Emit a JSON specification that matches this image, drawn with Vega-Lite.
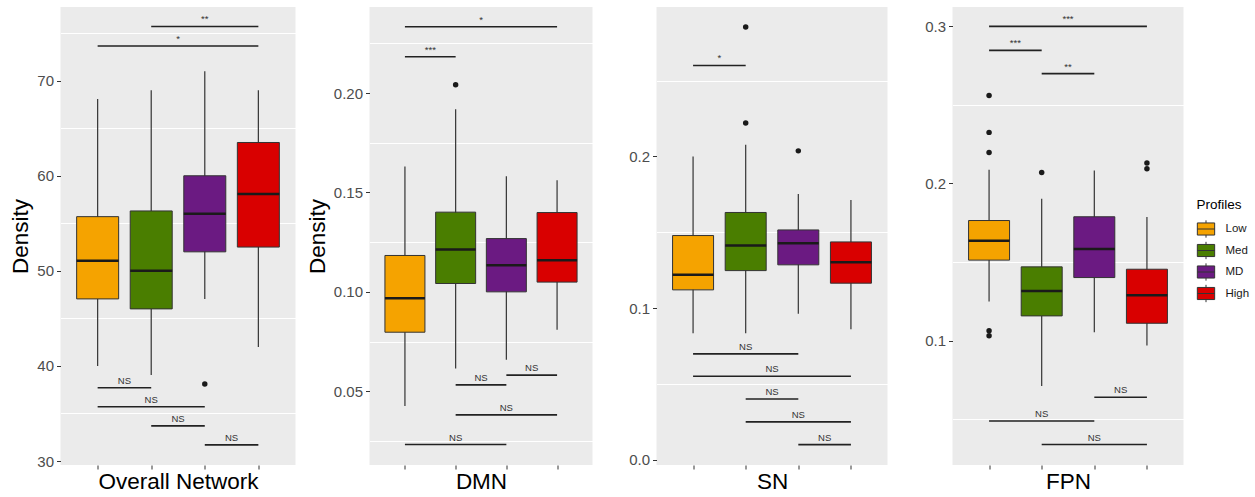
{
  "$schema": "https://vega.github.io/schema/vega-lite/v6.json",
  "padding": {"left": 9.5, "top": 7, "right": 0, "bottom": 0},
  "spacing": 10,
  "datasets": {
    "boxes": [
      {"network": "Overall", "profile": "Low", "idx": 1, "min": 40.0, "q1": 47.05, "median": 51.05, "q3": 55.7, "max": 68.07},
      {"network": "Overall", "profile": "Med", "idx": 2, "min": 39.05, "q1": 46.0, "median": 50.0, "q3": 56.3, "max": 69.0},
      {"network": "Overall", "profile": "MD", "idx": 3, "min": 47.05, "q1": 52.0, "median": 56.0, "q3": 60.0, "max": 71.0},
      {"network": "Overall", "profile": "High", "idx": 4, "min": 42.0, "q1": 52.5, "median": 58.07, "q3": 63.5, "max": 69.0},
      {"network": "DMN", "profile": "Low", "idx": 1, "min": 0.0426, "q1": 0.0797, "median": 0.0968, "q3": 0.1183, "max": 0.1631},
      {"network": "DMN", "profile": "Med", "idx": 2, "min": 0.0614, "q1": 0.1042, "median": 0.1213, "q3": 0.1401, "max": 0.1919},
      {"network": "DMN", "profile": "MD", "idx": 3, "min": 0.0658, "q1": 0.1, "median": 0.1134, "q3": 0.1268, "max": 0.1581},
      {"network": "DMN", "profile": "High", "idx": 4, "min": 0.0809, "q1": 0.1049, "median": 0.1159, "q3": 0.1399, "max": 0.1562},
      {"network": "SN", "profile": "Low", "idx": 1, "min": 0.0835, "q1": 0.1121, "median": 0.122, "q3": 0.1479, "max": 0.2},
      {"network": "SN", "profile": "Med", "idx": 2, "min": 0.0835, "q1": 0.1248, "median": 0.1413, "q3": 0.1631, "max": 0.2077},
      {"network": "SN", "profile": "MD", "idx": 3, "min": 0.0963, "q1": 0.1286, "median": 0.1429, "q3": 0.1516, "max": 0.1752},
      {"network": "SN", "profile": "High", "idx": 4, "min": 0.0862, "q1": 0.1165, "median": 0.1303, "q3": 0.1437, "max": 0.1714},
      {"network": "FPN", "profile": "Low", "idx": 1, "min": 0.1248, "q1": 0.1512, "median": 0.1635, "q3": 0.1764, "max": 0.2087},
      {"network": "FPN", "profile": "Med", "idx": 2, "min": 0.0711, "q1": 0.1157, "median": 0.1316, "q3": 0.1469, "max": 0.1902},
      {"network": "FPN", "profile": "MD", "idx": 3, "min": 0.1053, "q1": 0.1401, "median": 0.1582, "q3": 0.1788, "max": 0.2083},
      {"network": "FPN", "profile": "High", "idx": 4, "min": 0.0968, "q1": 0.111, "median": 0.1289, "q3": 0.1454, "max": 0.1786}
    ],
    "outliers": [
      {"network": "Overall", "idx": 3, "value": 38.1},
      {"network": "DMN", "idx": 2, "value": 0.2042},
      {"network": "SN", "idx": 2, "value": 0.222},
      {"network": "SN", "idx": 2, "value": 0.2853},
      {"network": "SN", "idx": 3, "value": 0.2037},
      {"network": "FPN", "idx": 1, "value": 0.256},
      {"network": "FPN", "idx": 1, "value": 0.2325},
      {"network": "FPN", "idx": 1, "value": 0.2197},
      {"network": "FPN", "idx": 1, "value": 0.1062},
      {"network": "FPN", "idx": 1, "value": 0.103},
      {"network": "FPN", "idx": 2, "value": 0.207},
      {"network": "FPN", "idx": 4, "value": 0.213},
      {"network": "FPN", "idx": 4, "value": 0.2093}
    ],
    "sig": [
      {"network": "Overall", "from": 2, "to": 4, "mid": 3, "y": 75.7, "label": "**"},
      {"network": "Overall", "from": 1, "to": 4, "mid": 2.5, "y": 73.65, "label": "*"},
      {"network": "Overall", "from": 1, "to": 2, "mid": 1.5, "y": 37.7, "label": "NS"},
      {"network": "Overall", "from": 1, "to": 3, "mid": 2, "y": 35.7, "label": "NS"},
      {"network": "Overall", "from": 2, "to": 3, "mid": 2.5, "y": 33.7, "label": "NS"},
      {"network": "Overall", "from": 3, "to": 4, "mid": 3.5, "y": 31.7, "label": "NS"},
      {"network": "DMN", "from": 1, "to": 4, "mid": 2.5, "y": 0.2334, "label": "*"},
      {"network": "DMN", "from": 1, "to": 2, "mid": 1.5, "y": 0.2183, "label": "***"},
      {"network": "DMN", "from": 3, "to": 4, "mid": 3.5, "y": 0.0581, "label": "NS"},
      {"network": "DMN", "from": 2, "to": 3, "mid": 2.5, "y": 0.0532, "label": "NS"},
      {"network": "DMN", "from": 2, "to": 4, "mid": 3, "y": 0.0381, "label": "NS"},
      {"network": "DMN", "from": 1, "to": 3, "mid": 2, "y": 0.0232, "label": "NS"},
      {"network": "SN", "from": 1, "to": 2, "mid": 1.5, "y": 0.26, "label": "*"},
      {"network": "SN", "from": 1, "to": 3, "mid": 2, "y": 0.0699, "label": "NS"},
      {"network": "SN", "from": 1, "to": 4, "mid": 2.5, "y": 0.0552, "label": "NS"},
      {"network": "SN", "from": 2, "to": 3, "mid": 2.5, "y": 0.0402, "label": "NS"},
      {"network": "SN", "from": 2, "to": 4, "mid": 3, "y": 0.0251, "label": "NS"},
      {"network": "SN", "from": 3, "to": 4, "mid": 3.5, "y": 0.0101, "label": "NS"},
      {"network": "FPN", "from": 1, "to": 4, "mid": 2.5, "y": 0.3, "label": "***"},
      {"network": "FPN", "from": 1, "to": 2, "mid": 1.5, "y": 0.2847, "label": "***"},
      {"network": "FPN", "from": 2, "to": 3, "mid": 2.5, "y": 0.2699, "label": "**"},
      {"network": "FPN", "from": 3, "to": 4, "mid": 3.5, "y": 0.0639, "label": "NS"},
      {"network": "FPN", "from": 1, "to": 3, "mid": 2, "y": 0.0488, "label": "NS"},
      {"network": "FPN", "from": 2, "to": 4, "mid": 3, "y": 0.0338, "label": "NS"}
    ]
  },
  "hconcat": [
    {
      "width": 235, "height": 458,
      "layer": [
        {"data": {"name": "boxes"}, "transform": [{"filter": "datum.network == 'Overall'"}],
         "mark": {"type": "rule", "stroke": "#333333", "strokeWidth": 1.2},
         "encoding": {
           "x": {"field": "idx", "type": "quantitative", "title": "Overall Network", "scale": {"domain": [0.4, 4.6], "nice": false, "zero": false}, "axis": {"values": [1, 2, 3, 4], "labels": false, "grid": false, "titlePadding": 1}},
           "y": {"field": "min", "type": "quantitative", "title": "Density", "scale": {"domain": [29.58, 77.75], "nice": false, "zero": false},
                 "axis": {"values": [30, 35, 40, 45, 50, 55, 60, 65, 70, 75], "labelExpr": "indexof([35,45,55,65,75], datum.value) >= 0 ? '' : datum.label",
                          "gridOpacity": {"condition": {"test": "indexof([35,45,55,65,75], datum.value) >= 0", "value": 1}, "value": 0},
                          "tickOpacity": {"condition": {"test": "indexof([35,45,55,65,75], datum.value) >= 0", "value": 0}, "value": 1},
                          "minExtent": 25, "maxExtent": 25, "titlePadding": 3}},
           "y2": {"field": "max"}
         }},
        {"data": {"name": "boxes"}, "transform": [{"filter": "datum.network == 'Overall'"}],
         "mark": {"type": "bar", "width": 42, "stroke": "#333333", "strokeWidth": 1},
         "encoding": {
           "x": {"field": "idx", "type": "quantitative", "title": "Overall Network"},
           "y": {"field": "q1", "type": "quantitative", "title": "Density"},
           "y2": {"field": "q3"},
           "color": {"field": "profile", "type": "nominal", "title": "Profiles",
                     "scale": {"domain": ["Low", "Med", "MD", "High"], "range": ["#F5A300", "#4A7E00", "#6B1A82", "#D90000"]}}
         }},
        {"data": {"name": "boxes"}, "transform": [{"filter": "datum.network == 'Overall'"}],
         "mark": {"type": "tick", "orient": "horizontal", "size": 42, "thickness": 2.5, "color": "#1a1a1a", "opacity": 1},
         "encoding": {
           "x": {"field": "idx", "type": "quantitative", "title": "Overall Network"},
           "y": {"field": "median", "type": "quantitative", "title": "Density"}
         }},
        {"data": {"name": "outliers"}, "transform": [{"filter": "datum.network == 'Overall'"}],
         "mark": {"type": "point", "filled": true, "size": 30, "color": "#1a1a1a", "opacity": 1},
         "encoding": {
           "x": {"field": "idx", "type": "quantitative", "title": "Overall Network"},
           "y": {"field": "value", "type": "quantitative", "title": "Density"}
         }},
        {"data": {"name": "sig"}, "transform": [{"filter": "datum.network == 'Overall'"}],
         "mark": {"type": "rule", "stroke": "#222222", "strokeWidth": 1.6},
         "encoding": {
           "x": {"field": "from", "type": "quantitative", "title": "Overall Network"},
           "x2": {"field": "to"},
           "y": {"field": "y", "type": "quantitative", "title": "Density"}
         }},
        {"data": {"name": "sig"}, "transform": [{"filter": "datum.network == 'Overall'"}],
         "mark": {"type": "text", "baseline": "bottom", "dy": -2, "fontSize": 9.5, "color": "#333333"},
         "encoding": {
           "x": {"field": "mid", "type": "quantitative", "title": "Overall Network"},
           "y": {"field": "y", "type": "quantitative", "title": "Density"},
           "text": {"field": "label"}
         }}
      ]
    },
    {
      "width": 223, "height": 458,
      "layer": [
        {"data": {"name": "boxes"}, "transform": [{"filter": "datum.network == 'DMN'"}],
         "mark": {"type": "rule", "stroke": "#333333", "strokeWidth": 1.2},
         "encoding": {
           "x": {"field": "idx", "type": "quantitative", "title": "DMN", "scale": {"domain": [0.4, 4.6], "nice": false, "zero": false}, "axis": {"values": [1, 2, 3, 4], "labels": false, "grid": false, "titlePadding": 1}},
           "y": {"field": "min", "type": "quantitative", "title": "Density", "scale": {"domain": [0.0129, 0.2433], "nice": false, "zero": false},
                 "axis": {"values": [0.025, 0.05, 0.075, 0.1, 0.125, 0.15, 0.175, 0.2, 0.225], "format": ".2f", "labelExpr": "indexof([0.025,0.075,0.125,0.175,0.225], datum.value) >= 0 ? '' : datum.label",
                          "gridOpacity": {"condition": {"test": "indexof([0.025,0.075,0.125,0.175,0.225], datum.value) >= 0", "value": 1}, "value": 0},
                          "tickOpacity": {"condition": {"test": "indexof([0.025,0.075,0.125,0.175,0.225], datum.value) >= 0", "value": 0}, "value": 1},
                          "minExtent": 36, "maxExtent": 36, "titlePadding": 4.5}},
           "y2": {"field": "max"}
         }},
        {"data": {"name": "boxes"}, "transform": [{"filter": "datum.network == 'DMN'"}],
         "mark": {"type": "bar", "width": 40, "stroke": "#333333", "strokeWidth": 1},
         "encoding": {
           "x": {"field": "idx", "type": "quantitative", "title": "DMN"},
           "y": {"field": "q1", "type": "quantitative", "title": "Density"},
           "y2": {"field": "q3"},
           "color": {"field": "profile", "type": "nominal", "title": "Profiles",
                     "scale": {"domain": ["Low", "Med", "MD", "High"], "range": ["#F5A300", "#4A7E00", "#6B1A82", "#D90000"]}}
         }},
        {"data": {"name": "boxes"}, "transform": [{"filter": "datum.network == 'DMN'"}],
         "mark": {"type": "tick", "orient": "horizontal", "size": 40, "thickness": 2.5, "color": "#1a1a1a", "opacity": 1},
         "encoding": {
           "x": {"field": "idx", "type": "quantitative", "title": "DMN"},
           "y": {"field": "median", "type": "quantitative", "title": "Density"}
         }},
        {"data": {"name": "outliers"}, "transform": [{"filter": "datum.network == 'DMN'"}],
         "mark": {"type": "point", "filled": true, "size": 30, "color": "#1a1a1a", "opacity": 1},
         "encoding": {
           "x": {"field": "idx", "type": "quantitative", "title": "DMN"},
           "y": {"field": "value", "type": "quantitative", "title": "Density"}
         }},
        {"data": {"name": "sig"}, "transform": [{"filter": "datum.network == 'DMN'"}],
         "mark": {"type": "rule", "stroke": "#222222", "strokeWidth": 1.6},
         "encoding": {
           "x": {"field": "from", "type": "quantitative", "title": "DMN"},
           "x2": {"field": "to"},
           "y": {"field": "y", "type": "quantitative", "title": "Density"}
         }},
        {"data": {"name": "sig"}, "transform": [{"filter": "datum.network == 'DMN'"}],
         "mark": {"type": "text", "baseline": "bottom", "dy": -2, "fontSize": 9.5, "color": "#333333"},
         "encoding": {
           "x": {"field": "mid", "type": "quantitative", "title": "DMN"},
           "y": {"field": "y", "type": "quantitative", "title": "Density"},
           "text": {"field": "label"}
         }}
      ]
    },
    {
      "width": 231, "height": 458,
      "layer": [
        {"data": {"name": "boxes"}, "transform": [{"filter": "datum.network == 'SN'"}],
         "mark": {"type": "rule", "stroke": "#333333", "strokeWidth": 1.2},
         "encoding": {
           "x": {"field": "idx", "type": "quantitative", "title": "SN", "scale": {"domain": [0.4, 4.6], "nice": false, "zero": false}, "axis": {"values": [1, 2, 3, 4], "labels": false, "grid": false, "titlePadding": 1}},
           "y": {"field": "min", "type": "quantitative", "title": null, "scale": {"domain": [-0.0033, 0.2985], "nice": false, "zero": false},
                 "axis": {"values": [0, 0.05, 0.1, 0.15, 0.2, 0.25], "format": ".1f", "labelExpr": "indexof([0.05,0.15,0.25], datum.value) >= 0 ? '' : datum.label",
                          "gridOpacity": {"condition": {"test": "indexof([0.05,0.15,0.25], datum.value) >= 0", "value": 1}, "value": 0},
                          "tickOpacity": {"condition": {"test": "indexof([0.05,0.15,0.25], datum.value) >= 0", "value": 0}, "value": 1},
                          "minExtent": 54, "maxExtent": 54}},
           "y2": {"field": "max"}
         }},
        {"data": {"name": "boxes"}, "transform": [{"filter": "datum.network == 'SN'"}],
         "mark": {"type": "bar", "width": 41, "stroke": "#333333", "strokeWidth": 1},
         "encoding": {
           "x": {"field": "idx", "type": "quantitative", "title": "SN"},
           "y": {"field": "q1", "type": "quantitative", "title": null},
           "y2": {"field": "q3"},
           "color": {"field": "profile", "type": "nominal", "title": "Profiles",
                     "scale": {"domain": ["Low", "Med", "MD", "High"], "range": ["#F5A300", "#4A7E00", "#6B1A82", "#D90000"]}}
         }},
        {"data": {"name": "boxes"}, "transform": [{"filter": "datum.network == 'SN'"}],
         "mark": {"type": "tick", "orient": "horizontal", "size": 41, "thickness": 2.5, "color": "#1a1a1a", "opacity": 1},
         "encoding": {
           "x": {"field": "idx", "type": "quantitative", "title": "SN"},
           "y": {"field": "median", "type": "quantitative", "title": null}
         }},
        {"data": {"name": "outliers"}, "transform": [{"filter": "datum.network == 'SN'"}],
         "mark": {"type": "point", "filled": true, "size": 30, "color": "#1a1a1a", "opacity": 1},
         "encoding": {
           "x": {"field": "idx", "type": "quantitative", "title": "SN"},
           "y": {"field": "value", "type": "quantitative", "title": null}
         }},
        {"data": {"name": "sig"}, "transform": [{"filter": "datum.network == 'SN'"}],
         "mark": {"type": "rule", "stroke": "#222222", "strokeWidth": 1.6},
         "encoding": {
           "x": {"field": "from", "type": "quantitative", "title": "SN"},
           "x2": {"field": "to"},
           "y": {"field": "y", "type": "quantitative", "title": null}
         }},
        {"data": {"name": "sig"}, "transform": [{"filter": "datum.network == 'SN'"}],
         "mark": {"type": "text", "baseline": "bottom", "dy": -2, "fontSize": 9.5, "color": "#333333"},
         "encoding": {
           "x": {"field": "mid", "type": "quantitative", "title": "SN"},
           "y": {"field": "y", "type": "quantitative", "title": null},
           "text": {"field": "label"}
         }}
      ]
    },
    {
      "width": 231, "height": 458,
      "layer": [
        {"data": {"name": "boxes"}, "transform": [{"filter": "datum.network == 'FPN'"}],
         "mark": {"type": "rule", "stroke": "#333333", "strokeWidth": 1.2},
         "encoding": {
           "x": {"field": "idx", "type": "quantitative", "title": "FPN", "scale": {"domain": [0.4, 4.6], "nice": false, "zero": false}, "axis": {"values": [1, 2, 3, 4], "labels": false, "grid": false, "titlePadding": 1}},
           "y": {"field": "min", "type": "quantitative", "title": null, "scale": {"domain": [0.0208, 0.3123], "nice": false, "zero": false},
                 "axis": {"values": [0.05, 0.1, 0.15, 0.2, 0.25, 0.3], "format": ".1f", "labelExpr": "indexof([0.05,0.15,0.25], datum.value) >= 0 ? '' : datum.label",
                          "gridOpacity": {"condition": {"test": "indexof([0.05,0.15,0.25], datum.value) >= 0", "value": 1}, "value": 0},
                          "tickOpacity": {"condition": {"test": "indexof([0.05,0.15,0.25], datum.value) >= 0", "value": 0}, "value": 1},
                          "minExtent": 55, "maxExtent": 55}},
           "y2": {"field": "max"}
         }},
        {"data": {"name": "boxes"}, "transform": [{"filter": "datum.network == 'FPN'"}],
         "mark": {"type": "bar", "width": 41, "stroke": "#333333", "strokeWidth": 1},
         "encoding": {
           "x": {"field": "idx", "type": "quantitative", "title": "FPN"},
           "y": {"field": "q1", "type": "quantitative", "title": null},
           "y2": {"field": "q3"},
           "color": {"field": "profile", "type": "nominal", "title": "Profiles",
                     "scale": {"domain": ["Low", "Med", "MD", "High"], "range": ["#F5A300", "#4A7E00", "#6B1A82", "#D90000"]}}
         }},
        {"data": {"name": "boxes"}, "transform": [{"filter": "datum.network == 'FPN'"}],
         "mark": {"type": "tick", "orient": "horizontal", "size": 41, "thickness": 2.5, "color": "#1a1a1a", "opacity": 1},
         "encoding": {
           "x": {"field": "idx", "type": "quantitative", "title": "FPN"},
           "y": {"field": "median", "type": "quantitative", "title": null}
         }},
        {"data": {"name": "outliers"}, "transform": [{"filter": "datum.network == 'FPN'"}],
         "mark": {"type": "point", "filled": true, "size": 30, "color": "#1a1a1a", "opacity": 1},
         "encoding": {
           "x": {"field": "idx", "type": "quantitative", "title": "FPN"},
           "y": {"field": "value", "type": "quantitative", "title": null}
         }},
        {"data": {"name": "sig"}, "transform": [{"filter": "datum.network == 'FPN'"}],
         "mark": {"type": "rule", "stroke": "#222222", "strokeWidth": 1.6},
         "encoding": {
           "x": {"field": "from", "type": "quantitative", "title": "FPN"},
           "x2": {"field": "to"},
           "y": {"field": "y", "type": "quantitative", "title": null}
         }},
        {"data": {"name": "sig"}, "transform": [{"filter": "datum.network == 'FPN'"}],
         "mark": {"type": "text", "baseline": "bottom", "dy": -2, "fontSize": 9.5, "color": "#333333"},
         "encoding": {
           "x": {"field": "mid", "type": "quantitative", "title": "FPN"},
           "y": {"field": "y", "type": "quantitative", "title": null},
           "text": {"field": "label"}
         }}
      ]
    }
  ],
  "config": {
    "font": "Liberation Sans",
    "view": {"fill": "#EBEBEB", "stroke": null},
    "axis": {
      "labelFont": "Liberation Sans", "labelFontSize": 15, "labelColor": "#4D4D4D", "labelPadding": 3,
      "titleFont": "Liberation Sans", "titleFontSize": 22.5, "titleFontWeight": "normal", "titleColor": "#000000",
      "tickColor": "#333333", "tickSize": 4, "tickWidth": 1, "domain": false,
      "gridColor": "#FFFFFF", "gridWidth": 1
    },
    "legend": {
      "orient": "none", "legendX": 1136, "legendY": 191,
      "titleFont": "Liberation Sans", "titleFontSize": 13.5, "titleFontWeight": "normal", "titleColor": "#000000", "titlePadding": 8,
      "labelFont": "Liberation Sans", "labelFontSize": 11.5, "labelColor": "#1a1a1a", "labelOffset": 10,
      "symbolType": "M-1,-0.7L1,-0.7L1,0.7L-1,0.7Z M0,-1L0,-0.7 M0,0.7L0,1 M-1,0L1,0",
      "symbolSize": 300, "symbolStrokeColor": "#333333", "symbolStrokeWidth": 1, "symbolOpacity": 1, "rowPadding": -1.5
    }
  }
}
